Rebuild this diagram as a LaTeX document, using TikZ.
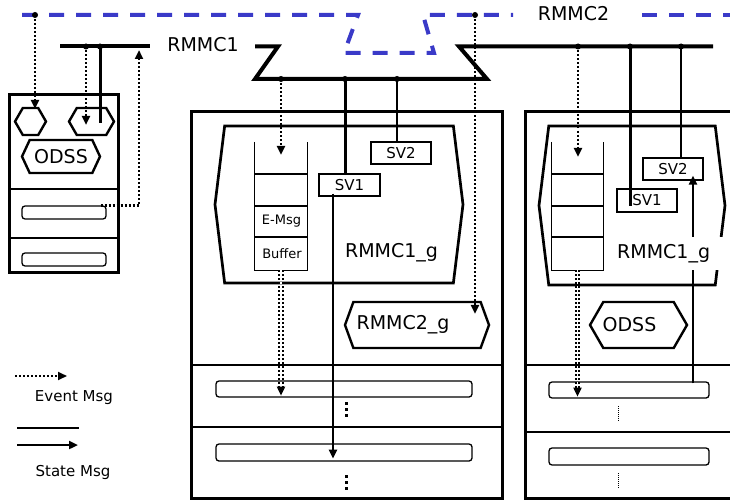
\documentclass[tikz,border=0pt]{standalone}
\usepackage{fontspec}
\setmainfont{DejaVu Sans}
\usetikzlibrary{arrows.meta,shapes.symbols}
\definecolor{netblue}{RGB}{58,58,200}
\tikzset{
  >={Triangle[length=9pt,width=8pt]},
  biglabel/.style={font=\fontsize{19}{21}\selectfont, inner sep=1pt},
  midlabel/.style={font=\fontsize{15}{17}\selectfont, inner sep=1pt},
  smalllabel/.style={font=\fontsize{13}{15}\selectfont, inner sep=1pt},
  bus/.style={line width=4pt},
  netbus/.style={line width=4pt, draw=netblue, dash pattern=on 15pt off 12pt},
  device/.style={draw, line width=3pt, inner sep=0pt},
  divider/.style={line width=1.5pt},
  slot/.style={draw, rounded corners=3pt, line width=1.3pt, inner sep=0pt},
  hexa/.style={draw, shape=signal, signal to=west and east, line width=2.4pt,
    inner sep=0pt},
  grp/.style={hexa, signal pointer angle=166, line width=2.7pt},
  svbox/.style={draw, line width=1.3pt, inner sep=0pt, midlabel},
  stack/.style={inner sep=0pt, minimum width=52pt, minimum height=128pt},
  stackline/.style={line width=1.3pt},
  evt/.style={->, line width=2.3pt, dash pattern=on 2pt off 2pt},
  evtdouble/.style={->, double, double distance=1.8pt, line width=1.8pt,
    dash pattern=on 2pt off 2pt},
  state/.style={line width=3pt},
  thinstate/.style={line width=1.8pt},
  stateto/.style={->, line width=2.6pt},
  bigdots/.style={line width=3pt, dash pattern=on 3pt off 3pt},
  thindots/.style={line width=1pt, dash pattern=on 1pt off 1pt}
}

\begin{document}
\begin{tikzpicture}[x=1pt,y=-1pt]
\useasboundingbox (0,0) rectangle (730,500);

% Buses
\draw[netbus] (22,15) -- (358,15) -- (344,53) -- (434,53) -- (423,15) -- (513,15);
\draw[netbus] (642,15) -- (730,15);
\node[biglabel] (lblNet) at (573.5,14) {RMMC2};
\draw[bus] (60,46.5) -- (150,46.5);
\draw[bus] (255,46.5) -- (278,46.5) -- (255,79) -- (487,79) -- (459,46.5) -- (713,46.5);
\node[biglabel] (lblBus) at (203,45) {RMMC1};

\coordinate (n1) at (35,15);
\coordinate (n2) at (475,15);
\coordinate (a1) at (86,46.5);
\coordinate (a2) at (100,46.5);
\coordinate (r1) at (139,46.5);
\coordinate (b1) at (281,79);
\coordinate (b2) at (345,79);
\coordinate (b3) at (397,79);
\coordinate (c1) at (578,46.5);
\coordinate (c2) at (630,46.5);
\coordinate (c3) at (681,46.5);
\foreach \t in {n1,n2,a1,a2,b1,b2,b3,c1,c2,c3}{\fill (\t) circle (3pt);}

% Left station
\node[device, minimum width=109pt, minimum height=177pt] (devL) at (63.5,183.5) {};
\draw[divider] (9,189) -- (118,189);
\draw[divider] (9,238) -- (118,238);
\node[hexa, signal pointer angle=120, minimum width=31pt, minimum height=27pt] (hexL1) at (30.5,121.5) {};
\node[hexa, signal pointer angle=120, minimum width=45pt, minimum height=27pt] (hexL2) at (91.5,121.5) {};
\node[hexa, biglabel, signal pointer angle=130, minimum width=78pt, minimum height=33pt] (odssL) at (61,156.5) {ODSS};
\node[slot, minimum width=84pt, minimum height=13pt] (slotL1) at (64,212.5) {};
\node[slot, minimum width=84pt, minimum height=13pt] (slotL2) at (64,259.5) {};

\draw[evt, shorten >=-2pt] (n1) -- (n1 |- hexL1.north);
\draw[evt, shorten >=-3.5pt] (a1) -- (a1 |- hexL2.center);
\draw[state, shorten >=-1.5pt] (a2) -- (a2 |- hexL2.center);
\draw[evt] ([xshift=-6pt]slotL1.north east) -| ([yshift=-3.5pt]r1);

% Middle station
\node[device, minimum width=311pt, minimum height=386pt] (devM) at (346.5,305) {};
\draw[divider] (191,365) -- (502,365);
\draw[divider] (191,427) -- (502,427);
\node[grp, minimum width=248pt, minimum height=157pt] (grpM1) at (339,204.5) {};
\node[stack] (bufM) at (281,206) {};
\draw[stackline] (bufM.north west) -- (bufM.south west) -- (bufM.south east) -- (bufM.north east);
\foreach \y in {174,206,237}{\draw[stackline] (255,\y) -- (307,\y);}
\node[smalllabel] (emsgM) at (281.5,221.5) {E-Msg};
\node[smalllabel] (bufLblM) at (282,253.5) {Buffer};
\node[svbox, minimum width=61pt, minimum height=22pt] (svM1) at (349.5,185) {SV1};
\node[svbox, minimum width=60pt, minimum height=22pt] (svM2) at (401,153) {SV2};
\node[biglabel] (lblM1) at (391.5,253) {RMMC1\_g};
\node[hexa, signal pointer angle=140, minimum width=144pt, minimum height=46pt] (grpM2) at (417,325) {};
\node[biglabel] (lblM2) at (403,325) {RMMC2\_g};
\node[slot, minimum width=256pt, minimum height=16pt] (slotM1) at (344,389) {};
\node[slot, minimum width=256pt, minimum height=17pt] (slotM2) at (344,452.5) {};
\draw[bigdots] (346,402) -- (346,418);
\draw[bigdots] (346,475) -- (346,492);

\draw[evt, shorten >=-13pt] (b1) -- (b1 |- bufM.north);
\draw[state] (b2) -- (b2 |- svM1.north);
\draw[thinstate] (b3) -- (b3 |- svM2.north);
\draw[evt, shorten >=-13pt] (n2) -- (n2 |- grpM2.north);
\draw[evtdouble, shorten >=2pt] (bufM.south) -- (bufM.south |- slotM1.south);
\draw[stateto] ([xshift=-16.5pt,yshift=3pt]svM1.south) -- ([xshift=-11pt,yshift=3pt]slotM2.south);

% Right station
\node[device, minimum width=235pt, minimum height=386pt] (devR) at (642.5,305) {};
\draw[divider] (525,365) -- (760,365);
\draw[divider] (525,432) -- (760,432);
\node[grp, minimum width=186pt, minimum height=159pt] (grpR1) at (632,205.5) {};
\node[stack] (bufR) at (577.5,206) {};
\draw[stackline] (bufR.north west) -- (bufR.south west) -- (bufR.south east) -- (bufR.north east);
\foreach \y in {174,206,237}{\draw[stackline] (551.5,\y) -- (603.5,\y);}
\node[svbox, minimum width=60pt, minimum height=23pt] (svR1) at (647,200.5) {SV1};
\node[svbox, minimum width=60pt, minimum height=22pt] (svR2) at (673,169) {SV2};
\node[hexa, signal pointer angle=120, minimum width=97pt, minimum height=46pt] (odssR) at (638.5,325) {};
\node[biglabel] (lblR2) at (629.5,325) {ODSS};
\node[slot, minimum width=160pt, minimum height=16pt] (slotR1) at (629,390) {};
\node[slot, minimum width=160pt, minimum height=17pt] (slotR2) at (629,456.5) {};
\draw[thindots] (618,406) -- (618,422);
\draw[thindots] (618,473) -- (618,488);

\draw[evt, shorten >=-15pt] (c1) -- (c1 |- bufR.north);
\draw[state, shorten >=7pt] (c2) -- (c2 |- svR1.south);
\draw[thinstate] (c3) -- (c3 |- svR2.north);
\draw[evtdouble, shorten >=2pt] (bufR.south) -- (bufR.south |- slotR1.south);
\draw[stateto] ([xshift=64pt,yshift=-2pt]slotR1.north) -- ([xshift=20pt,yshift=5pt]svR2.south);
\node[biglabel, fill=white, anchor=west, inner xsep=2pt, text width=106pt,
  minimum height=33pt, align=left] (lblR1) at (615,253.5) {RMMC1\_g};

% Legend
\coordinate (lgE1) at (15,376);
\coordinate (lgE2) at (67,376);
\coordinate (lgS1) at (17,428);
\coordinate (lgS2) at (79,428);
\coordinate (lgS3) at (17,445);
\coordinate (lgS4) at (78,445);
\draw[evt, line width=2pt] (lgE1) -- (lgE2);
\node[midlabel] (lgEvt) at (74,398) {Event Msg};
\draw[state, line width=2.7pt] (lgS1) -- (lgS2);
\draw[stateto, line width=2.7pt] (lgS3) -- (lgS4);
\node[midlabel] (lgSt) at (73,472) {State Msg};

\end{tikzpicture}
\end{document}
